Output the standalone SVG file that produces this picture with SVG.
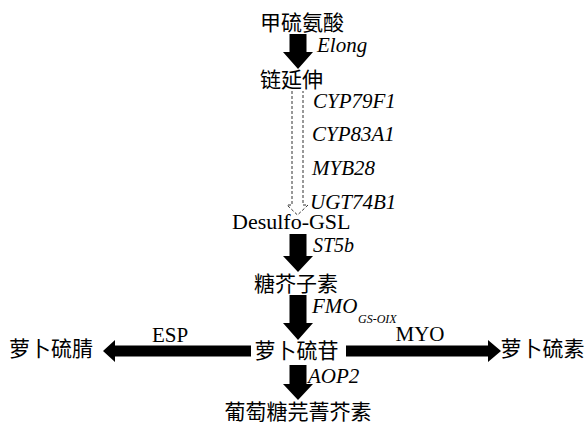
<svg xmlns="http://www.w3.org/2000/svg" width="587" height="426" viewBox="0 0 587 426">
<style>
.cn{font-family:"Noto Sans CJK SC","Noto Sans CJK JP",sans-serif;font-size:21px;fill:#000}
.it{font-family:"Liberation Serif","Times New Roman",serif;font-style:italic;font-size:21px;fill:#000}
.rm{font-family:"Liberation Serif","Times New Roman",serif;font-size:21px;fill:#000}
.sub{font-family:"Liberation Serif","Times New Roman",serif;font-style:italic;font-size:12px;fill:#000}
.arr{fill:#000}
.dash{fill:none;stroke:#333;stroke-width:1;stroke-dasharray:3,2}
</style>
<rect width="587" height="426" fill="#fff"/>
<g id="connectors">
<path class="arr" d="M289.5,34 H306.5 V52 H313 L298,69 L283,52 H289.5 Z"/>
<path class="dash" d="M292,91 V205 H287 L297.5,215 L308,205 H303 V91"/>
<path class="arr" d="M289.5,234 H306.5 V256 H313 L298,272 L283,256 H289.5 Z"/>
<path class="arr" d="M289.5,295 H306.5 V323 H313 L298,340 L283,323 H289.5 Z"/>
<path class="arr" d="M289.5,365 H306.5 V384 H313 L298,400 L283,384 H289.5 Z"/>
<path class="arr" d="M251,345.5 V356.5 H115 V362 L103,351 L115,340 V345.5 Z"/>
<path class="arr" d="M346,345.5 V356.5 H488 V362 L501,351 L488,340 V345.5 Z"/>
</g>
<g id="n-met"><text class="cn" x="302" y="30" text-anchor="middle">甲硫氨酸</text></g>
<g id="l-elong"><text class="it" x="317" y="52">Elong</text></g>
<g id="n-chain"><text class="cn" x="291.5" y="87" text-anchor="middle">链延伸</text></g>
<g id="l-genes">
<text class="it" x="313" y="108">CYP79F1</text>
<text class="it" x="312" y="141">CYP83A1</text>
<text class="it" x="312" y="175">MYB28</text>
<text class="it" x="310" y="209">UGT74B1</text>
</g>
<g id="n-desulfo"><text class="rm" x="232" y="229" style="font-size:22px">Desulfo-GSL</text></g>
<g id="l-st5b"><text class="it" x="313" y="252" style="font-size:20px">ST5b</text></g>
<g id="n-gsl"><text class="cn" x="296" y="291" text-anchor="middle">糖芥子素</text></g>
<g id="l-fmo"><text class="it" x="312" y="313">FMO</text><text class="sub" x="358" y="323">GS-OIX</text></g>
<g id="n-glucoraphanin"><text class="cn" x="296.5" y="358" text-anchor="middle">萝卜硫苷</text></g>
<g id="n-nitrile"><text class="cn" x="51" y="356" text-anchor="middle">萝卜硫腈</text></g>
<g id="n-sulforaphane"><text class="cn" x="542.5" y="356" text-anchor="middle">萝卜硫素</text></g>
<g id="l-esp"><text class="rm" x="170" y="342" text-anchor="middle">ESP</text></g>
<g id="l-myo"><text class="rm" x="420" y="341" text-anchor="middle">MYO</text></g>
<g id="l-aop2"><text class="it" x="308" y="383">AOP2</text></g>
<g id="n-gluconapin"><text class="cn" x="298" y="419" text-anchor="middle">葡萄糖芫菁芥素</text></g>
</svg>
